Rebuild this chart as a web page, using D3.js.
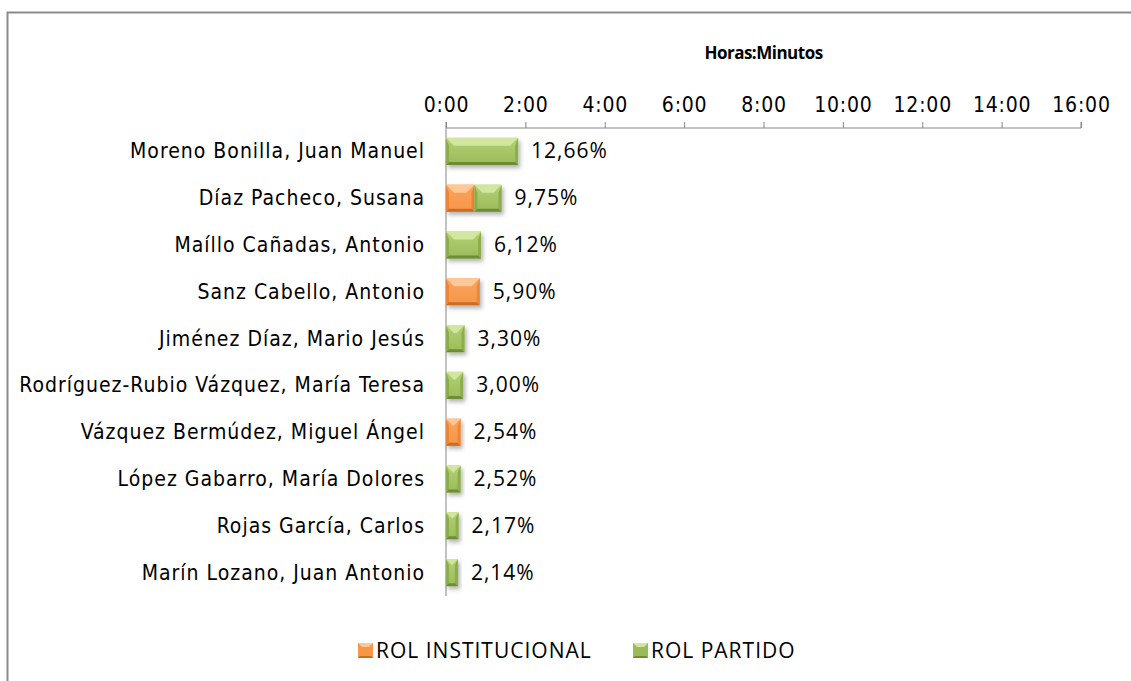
<!DOCTYPE html>
<html>
<head>
<meta charset="utf-8">
<script src="https://cdn.jsdelivr.net/npm/d3@7"></script>
<style>
	body { margin: 0; background: #fff; }
	svg { display: block; }
	.cat { font-family: "Liberation Sans Narrow", "DejaVu Sans Condensed", sans-serif; font-size: 21px; fill: #000; letter-spacing: 1px; }
	.tick text { font-family: "Liberation Sans Narrow", "DejaVu Sans Condensed", sans-serif; font-size: 21px; fill: #000; letter-spacing: 0.8px; }
	.pct { font-family: "Open Sans", sans-serif; font-size: 21px; fill: #000; letter-spacing: 1px; }
	.legend text { font-family: "Open Sans", sans-serif; font-size: 21px; fill: #000; letter-spacing: 1px; }
</style>
</head>
<body>
<div id="chart"></div>
<script>
	// datos: minutos de intervención por rol
	var names = [
		"Moreno Bonilla, Juan Manuel",
		"Díaz Pacheco, Susana",
		"Maíllo Cañadas, Antonio",
		"Sanz Cabello, Antonio",
		"Jiménez Díaz, Mario Jesús",
		"Rodríguez-Rubio Vázquez, María Teresa",
		"Vázquez Bermúdez, Miguel Ángel",
		"López Gabarro, María Dolores",
		"Rojas García, Carlos",
		"Marín Lozano, Juan Antonio"
	];
	var institucional = [0, 43, 0, 51, 0, 0, 22, 0, 0, 0];
	var partido = [109, 41, 53, 0, 28, 26, 0, 22, 19, 18];
	var porcentajes = ["12,66%", "9,75%", "6,12%", "5,90%", "3,30%", "3,00%", "2,54%", "2,52%", "2,17%", "2,14%"];
	var tickMinutes = [0, 120, 240, 360, 480, 600, 720, 840, 960];
	var series = ["ROL INSTITUCIONAL", "ROL PARTIDO"];

	var W = 1131, H = 681;
	var svg = d3.select("#chart").append("svg")
		.attr("width", W)
		.attr("height", H);

	// marco
	svg.append("rect")
		.attr("x", 7.5).attr("y", 12.5)
		.attr("width", W + 20).attr("height", H + 20)
		.attr("fill", "#fff")
		.attr("stroke", "#8c8c8c")
		.attr("stroke-width", 2);

	var colors = {
		"ROL INSTITUCIONAL": { top: "#fcc896", mid: "#f79646", side: "#ec8637", bot: "#c96c24", light: "#f9a35f" },
		"ROL PARTIDO": { top: "#d3e6a0", mid: "#9bbb59", side: "#8cad4b", bot: "#6f8c37", light: "#b3d076" }
	};

	var defs = svg.append("defs");
	var shadow = defs.append("filter").attr("id", "shadow")
		.attr("x", "-20%").attr("y", "-30%").attr("width", "150%").attr("height", "180%");
	shadow.append("feDropShadow")
		.attr("dx", 2).attr("dy", 3).attr("stdDeviation", 2)
		.attr("flood-color", "#000").attr("flood-opacity", 0.3);

	series.forEach(function(s, i) {
		var g = defs.append("linearGradient").attr("id", "grad" + i)
			.attr("x1", 0).attr("y1", 0).attr("x2", 0).attr("y2", 1);
		g.append("stop").attr("offset", "0%").attr("stop-color", colors[s].light);
		g.append("stop").attr("offset", "100%").attr("stop-color", colors[s].mid);
	});

	var rows = names.map(function(n, i) {
		return { name: n, "ROL INSTITUCIONAL": institucional[i], "ROL PARTIDO": partido[i], pct: porcentajes[i] };
	});

	var x = d3.scaleLinear().domain([0, 960]).range([446, 1081]);
	var y = d3.scaleBand().domain(names).range([128, 596]).paddingInner(0.42).paddingOuter(0.21);

	function fmt(m) {
		var h = Math.floor(m / 60), mm = m % 60;
		return h + ":" + (mm < 10 ? "0" : "") + mm;
	}

	// titulo del eje
	svg.append("text")
		.attr("x", (x(0) + x(960)) / 2)
		.attr("y", 59)
		.attr("text-anchor", "middle")
		.style("font-family", "'Open Sans', sans-serif")
		.style("font-weight", "bold")
		.style("font-size", "17px")
		.style("letter-spacing", "-0.5px")
		.text("Horas:Minutos");

	var axis = svg.append("g")
		.attr("transform", "translate(0,128)")
		.call(d3.axisTop(x).tickValues(tickMinutes).tickFormat(fmt).tickSize(6).tickPadding(10));
	axis.selectAll("line, path").attr("stroke", "#868686");
	axis.select(".domain").attr("d", "M" + x(0) + ",-6V0H" + x(960) + "V-6");

	// eje vertical
	svg.append("line")
		.attr("x1", x(0)).attr("x2", x(0))
		.attr("y1", 128).attr("y2", 596)
		.attr("stroke", "#868686");

	svg.selectAll(".cat")
		.data(names)
		.enter().append("text")
		.attr("class", "cat")
		.attr("x", 425)
		.attr("y", function(d) { return y(d) + y.bandwidth() / 2 + 7; })
		.attr("text-anchor", "end")
		.text(function(d) { return d; });

	var stack = d3.stack().keys(series)(rows);

	function bevelBar(sel, s, idx) {
		sel.each(function(d) {
			var g = d3.select(this);
			var x0 = x(d[0]), x1 = x(d[1]);
			var w = x1 - x0;
			if (w <= 0) return;
			var y0 = y(d.data.name), h = y.bandwidth(), y1 = y0 + h;
			var b = Math.min(8, w / 2), bb = 3;
			var c = colors[s];
			g.append("rect")
				.attr("x", x0).attr("y", y0).attr("width", w).attr("height", h)
				.attr("fill", "url(#grad" + idx + ")")
				.attr("filter", "url(#shadow)");
			// lados
			g.append("polygon")
				.attr("points", [[x0, y0], [x0 + bb, y0 + b], [x0 + bb, y1 - bb], [x0, y1]].join(" "))
				.attr("fill", c.side);
			g.append("polygon")
				.attr("points", [[x1, y0], [x1 - bb, y0 + b], [x1 - bb, y1 - bb], [x1, y1]].join(" "))
				.attr("fill", c.side);
			// arriba
			g.append("polygon")
				.attr("points", [[x0, y0], [x1, y0], [x1 - b, y0 + b], [x0 + b, y0 + b]].join(" "))
				.attr("fill", c.top);
			// abajo
			g.append("polygon")
				.attr("points", [[x0, y1], [x1, y1], [x1 - bb, y1 - bb], [x0 + bb, y1 - bb]].join(" "))
				.attr("fill", c.bot);
		});
	}

	stack.forEach(function(layer, i) {
		var g = svg.append("g").attr("class", "layer");
		g.selectAll("g")
			.data(layer)
			.enter().append("g")
			.call(bevelBar, layer.key, i);
	});

	svg.selectAll(".pct")
		.data(rows)
		.enter().append("text")
		.attr("class", "pct")
		.attr("x", function(d) { return x(d["ROL INSTITUCIONAL"] + d["ROL PARTIDO"]) + 13; })
		.attr("y", function(d) { return y(d.name) + y.bandwidth() / 2 + 7; })
		.text(function(d) { return d.pct; });

	// leyenda
	var legend = svg.append("g").attr("class", "legend");
	var lx = [358, 633];
	series.forEach(function(s, i) {
		var g = legend.append("g").attr("transform", "translate(" + lx[i] + ",643)");
		g.append("rect").attr("width", 15).attr("height", 15).attr("fill", colors[s].mid);
		g.append("polygon").attr("points", "0,0 15,0 11,4 4,4").attr("fill", colors[s].top);
		g.append("polygon").attr("points", "0,15 15,15 13,13 2,13").attr("fill", colors[s].bot);
		g.append("text").attr("x", 18).attr("y", 15).text(s);
	});
</script>
</body>
</html>
